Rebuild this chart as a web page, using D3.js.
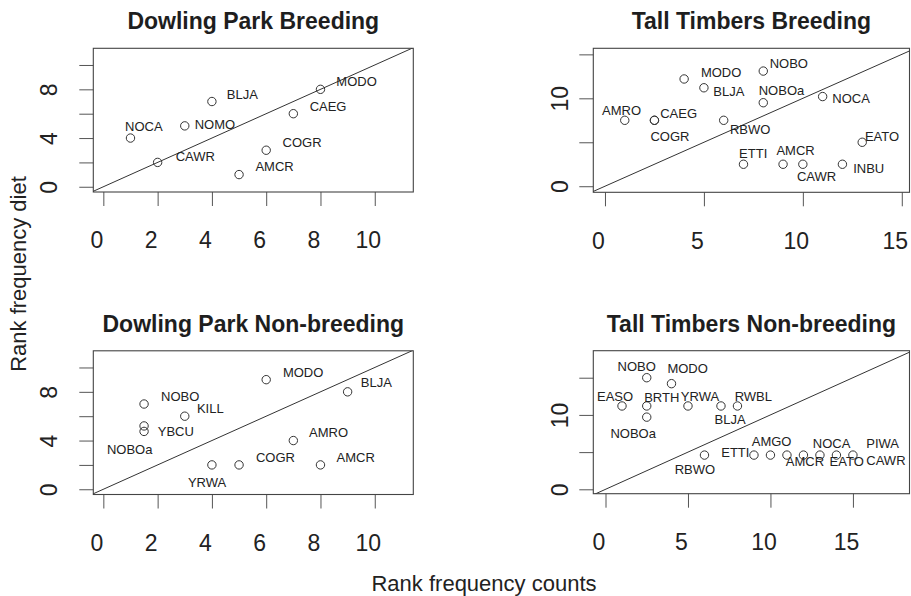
<!DOCTYPE html>
<html><head><meta charset="utf-8">
<script src="https://cdn.jsdelivr.net/npm/d3@7"></script>
<style>
html,body{margin:0;padding:0;background:#fff;}
svg{display:block;font-family:"Liberation Sans",Arial,Helvetica,sans-serif;}
</style></head>
<body><svg id="c" width="911" height="596"></svg>
<script>
// ---------- DATA ----------
// Dowling Park Breeding
const dpbSpecies = ["NOCA","CAWR","NOMO","BLJA","AMCR","COGR","CAEG","MODO"];
const dpbCounts  = [1,2,3,4,5,6,7,8];
const dpbDiet    = [4,2,5,7,1,3,6,8];
const dpbLabelX  = [1.49,3.39,4.11,5.12,6.31,7.32,8.28,9.33];
const dpbLabelY  = [4.93,2.52,5.13,7.59,1.70,3.62,6.57,8.63];

// Tall Timbers Breeding
const ttbSpecies = ["AMRO","CAEG","COGR","MODO","BLJA","RBWO","ETTI","NOBO","NOBOa","AMCR","CAWR","NOCA","INBU","EATO"];
const ttbCounts  = [1,2.5,2.5,4,5,6,7,8,8,9,10,11,12,13];
const ttbDiet    = [7.5,7.5,7.5,12.2,11.2,7.5,2.5,13.1,9.5,2.5,2.5,10.2,2.5,5];
const ttbLabelX  = [0.84,3.72,3.28,5.87,6.26,7.34,7.49,9.29,8.92,9.63,10.69,12.44,13.33,14.0];
const ttbLabelY  = [8.67,8.29,5.71,12.96,10.75,6.47,3.74,13.98,10.86,4.04,1.08,10.0,2.04,5.71];

// Dowling Park Non-breeding
const dpnSpecies = ["NOBO","YBCU","NOBOa","KILL","YRWA","COGR","MODO","AMRO","AMCR","BLJA"];
const dpnCounts  = [1.5,1.5,1.5,3,4,5,6,7,8,9];
const dpnDiet    = [7,5.2,4.75,6,2,2,9,4,2,8];
const dpnLabelX  = [2.83,2.67,0.97,3.94,3.82,6.34,7.36,8.30,9.30,10.06];
const dpnLabelY  = [7.65,4.76,3.31,6.61,0.55,2.64,9.64,4.68,2.64,8.76];

// Tall Timbers Non-breeding
const ttnSpecies = ["EASO","NOBO","BRTH","NOBOa","MODO","YRWA","RBWO","BLJA","RWBL","ETTI","AMGO","AMCR","NOCA","EATO","PIWA","CAWR"];
const ttnCounts  = [1,2.5,2.5,2.5,4,5,6,7,8,9,10,11,12,13,14,15];
const ttnDiet    = [11.2,15,11.2,9.7,14.2,11.2,4.6,11.2,11.2,4.6,4.6,4.6,4.6,4.6,4.6,4.6];
const ttnLabelX  = [0.58,1.89,3.41,1.68,4.98,5.73,5.42,7.55,8.96,7.87,10.07,12.09,13.71,14.62,16.8,17.0];
const ttnLabelY  = [12.45,16.57,12.37,7.53,16.26,12.45,2.69,9.41,12.54,4.92,6.49,3.71,6.18,3.71,6.18,3.84];

// Titles and ticks
const titles = ["Dowling Park Breeding","Tall Timbers Breeding","Dowling Park Non-breeding","Tall Timbers Non-breeding"];
const dpXTicks = [0,2,4,6,8,10];
const dpYTicks = [0,2,4,6,8,10];
const dpYLabels = [0,4,8];
const ttXTicks = [0,5,10,15];
const ttYTicks = [0,5,10,15];
const ttYLabels = [0,10];
const xAxisTitle = "Rank frequency counts";
const yAxisTitle = "Rank frequency diet";

// axis limits (data units)
const dpXLim = [-0.37, 11.42], dpYLim = [-0.43, 11.37];
const ttbXLim = [-0.59, 15.39], ttbYLim = [-0.69, 15.69];
const ttnXLim = [-0.74, 18.43], ttnYLim = [-0.59, 18.63];

// ---------- LAYOUT ----------
const svg = d3.select("#c");
const FONT = '"Liberation Sans",Arial,Helvetica,sans-serif';
const INK = "#1e1e1e";

const panels = [
  {title:titles[0], box:[93.3,48.3,413.3,192], xLim:dpXLim, yLim:dpYLim, xt:dpXTicks, yt:dpYTicks, yl:dpYLabels, yLabOff:36.6,
   sp:dpbSpecies, cx:dpbCounts, cy:dpbDiet, lx:dpbLabelX, ly:dpbLabelY, titleY:29},
  {title:titles[1], box:[593.3,48.3,909.5,192.3], xLim:ttbXLim, yLim:ttbYLim, xt:ttXTicks, yt:ttYTicks, yl:ttYLabels, yLabOff:25.3,
   sp:ttbSpecies, cx:ttbCounts, cy:ttbDiet, lx:ttbLabelX, ly:ttbLabelY, titleY:29},
  {title:titles[2], box:[93.3,350.8,413.3,494.5], xLim:dpXLim, yLim:dpYLim, xt:dpXTicks, yt:dpYTicks, yl:dpYLabels, yLabOff:36.6,
   sp:dpnSpecies, cx:dpnCounts, cy:dpnDiet, lx:dpnLabelX, ly:dpnLabelY, titleY:331.5},
  {title:titles[3], box:[593.3,350.7,909.5,493.7], xLim:ttnXLim, yLim:ttnYLim, xt:ttXTicks, yt:ttYTicks, yl:ttYLabels, yLabOff:25.3,
   sp:ttnSpecies, cx:ttnCounts, cy:ttnDiet, lx:ttnLabelX, ly:ttnLabelY, titleY:331.5}
];

panels.forEach((p, i) => {
  const [L,T,R,B] = p.box;
  const x = d3.scaleLinear().domain(p.xLim).range([L,R]);
  const y = d3.scaleLinear().domain(p.yLim).range([B,T]);
  const g = svg.append("g");

  const clipId = "clip"+i;
  svg.append("clipPath").attr("id", clipId)
    .append("rect").attr("x",L).attr("y",T).attr("width",R-L).attr("height",B-T);

  // title
  g.append("text").attr("x",(L+R)/2).attr("y",p.titleY)
    .attr("text-anchor","middle").attr("font-weight","bold").attr("font-size",23)
    .attr("fill",INK).text(p.title);

  // x axis
  const xa = g.append("g").attr("transform",`translate(0,${B})`)
    .call(d3.axisBottom(x).tickValues(p.xt).tickSize(14).tickPadding(26).tickFormat(d3.format("d")));
  xa.select(".domain").remove();
  xa.selectAll("line").attr("stroke","#555");
  xa.selectAll("text").attr("font-size",23).attr("font-family",FONT).attr("fill","#222").attr("dx",-7);

  // y axis
  const ya = g.append("g").attr("transform",`translate(${L},0)`)
    .call(d3.axisLeft(y).tickValues(p.yt).tickSize(14).tickFormat(d => p.yl.includes(d) ? d : ""));
  ya.select(".domain").remove();
  ya.selectAll("line").attr("stroke","#555");
  ya.selectAll("text").attr("font-size",23).attr("font-family",FONT).attr("fill","#222")
    .attr("x",null).attr("dy",null).attr("text-anchor","middle")
    .attr("transform",`translate(${-p.yLabOff},0) rotate(-90)`);

  // box
  g.append("rect").attr("x",L).attr("y",T).attr("width",R-L).attr("height",B-T)
    .attr("fill","none").attr("stroke","#444").attr("stroke-width",1.1);

  const inner = g.append("g").attr("clip-path",`url(#${clipId})`);
  // 1:1 line
  const lo = Math.min(p.xLim[0],p.yLim[0]) - 1, hi = Math.max(p.xLim[1],p.yLim[1]) + 1;
  inner.append("line").attr("x1",x(lo)).attr("y1",y(lo)).attr("x2",x(hi)).attr("y2",y(hi))
    .attr("stroke","#333").attr("stroke-width",1);

  const pts = p.sp.map((s,k) => ({s, cx:p.cx[k], cy:p.cy[k], lx:p.lx[k], ly:p.ly[k]}));
  inner.selectAll("circle").data(pts).join("circle")
    .attr("cx",d=>x(d.cx)).attr("cy",d=>y(d.cy)).attr("r",4.2)
    .attr("fill","none").attr("stroke","#333").attr("stroke-width",1);
  inner.selectAll("text.lab").data(pts).join("text").attr("class","lab")
    .attr("x",d=>x(d.lx)).attr("y",d=>y(d.ly)).attr("dy","0.36em")
    .attr("text-anchor","middle").attr("font-size",13).attr("fill","#222").text(d=>d.s);
});

// axis titles
svg.append("text").attr("x",484).attr("y",591).attr("text-anchor","middle")
  .attr("font-size",22).attr("fill","#222").text(xAxisTitle);
svg.append("text").attr("transform","translate(26,274) rotate(-90)").attr("text-anchor","middle")
  .attr("font-size",22).attr("fill","#222").text(yAxisTitle);
</script></body></html>
